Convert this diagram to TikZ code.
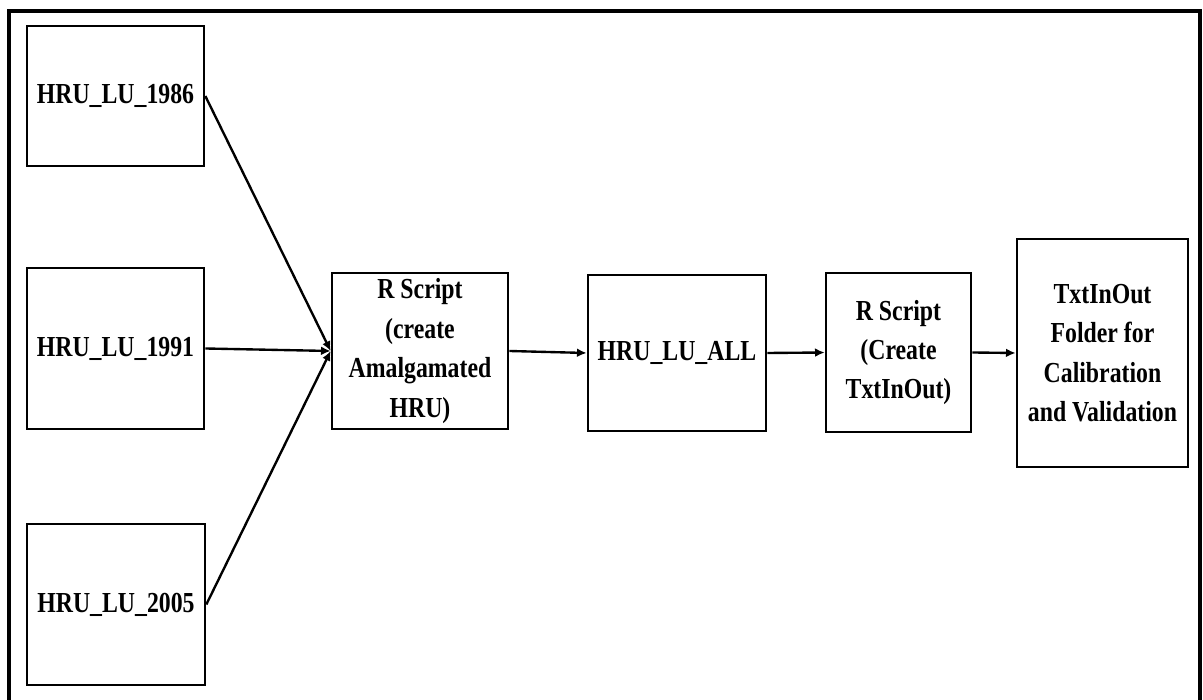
\documentclass[tikz,border=0pt]{standalone}
\usepackage{fontspec}
\setmainfont{Liberation Serif}[FakeStretch=0.82]
\usetikzlibrary{positioning,arrows.meta}
\tikzset{
  box/.style={draw, line width=1.5pt, align=center, inner sep=0pt,
    font=\bfseries\fontsize{16.5}{22.4}\selectfont},
  link/.style={line width=1.35pt, -{Latex[length=5.5pt,width=5pt]}}
}
\begin{document}
\begin{tikzpicture}
    \useasboundingbox (0,0) rectangle (24.06,14);
    \draw[line width=2pt] (0.18,-0.3) -- (0.18,13.78) -- (24.0,13.78) -- (24.0,-0.3);
    \node[box, minimum width=3.54cm, minimum height=2.8cm] (lu86) at (2.31,12.08) {HRU\_LU\_1986};
    \node[box, minimum width=3.54cm, minimum height=3.22cm] (lu91) at (2.31,7.03) {HRU\_LU\_1991};
    \node[box, minimum width=3.56cm, minimum height=3.22cm] (lu05) at (2.32,1.91) {HRU\_LU\_2005};
    \node[box, minimum width=3.52cm, minimum height=3.12cm] (rscript) at (8.4,6.98) {R Script\\(create\\Amalgamated\\HRU)};
    \node[box, minimum width=3.56cm, minimum height=3.12cm] (luall) at (13.54,6.94) {HRU\_LU\_ALL};
    \node[box, minimum width=2.9cm, minimum height=3.18cm] (rtxt) at (17.97,6.95) {R Script\\(Create\\TxtInOut)};
    \node[box, minimum width=3.42cm, minimum height=4.56cm] (txtio) at (22.05,6.94) {TxtInOut\\Folder for\\Calibration\\and Validation};
    \coordinate (join) at (rscript.west);
    \draw[link] (lu86.east) -- (join);
    \draw[link] (lu91.east) -- (join);
    \draw[link] (lu05.east) -- (join);
    \draw[link] (rscript.east) -- (luall.west);
    \draw[link] (luall.east) -- (rtxt.west);
    \draw[link] (rtxt.east) -- (txtio.west);
\end{tikzpicture}
\end{document}
